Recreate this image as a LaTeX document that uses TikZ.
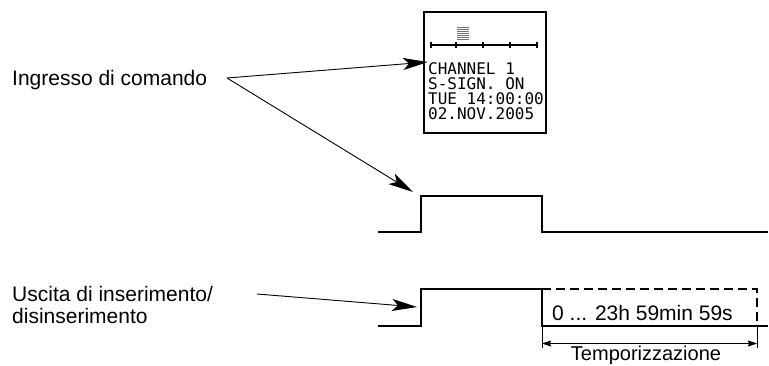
\documentclass[tikz,border=0pt]{standalone}
\usepackage{fontspec}
\setmainfont{Liberation Sans}
\newfontfamily\lcdfont{DejaVu Sans Mono}
\usetikzlibrary{arrows.meta}
\def\Pulse#1#2{%
 \draw[pulse line] (378,#1) -- (421,#1) -- (421,#2) -- (542,#2) -- (542,#1) -- (768,#1);
}
\def\LcdLine#1#2#3{%
 \node (#1) [lcd text] at (428,#2) {#3};
}

\begin{document}
\begin{tikzpicture}[x=1pt, y=-1pt,
    label text/.style={font=\fontsize{21}{23}\selectfont, inner sep=0pt, anchor=base west},
    lcd text/.style={font=\lcdfont\fontsize{16}{16}\selectfont, inner sep=0pt, anchor=base west},
    lcd box/.style={draw=black, line width=1.3pt, minimum width=122pt, minimum height=121pt, inner sep=0pt},
    pulse line/.style={line width=2.4pt, line join=miter},
    timer line/.style={line width=2.4pt, dash pattern=on 9pt off 5pt},
    callout/.style={line width=0.9pt, -{Stealth[length=25pt, width=12pt, inset=6pt]}},
    dim arrow/.style={line width=0.9pt, {Stealth[length=9pt, width=6pt, inset=1pt]}-{Stealth[length=9pt, width=6pt, inset=1pt]}}
  ]
\useasboundingbox (0,0) rectangle (769,365);

% labels
\node (ingresso) [label text] at (12,85) {Ingresso di comando};
\node (uscita1) [label text] at (12,301) {Uscita di inserimento/};
\node (uscita2) [label text] at (12,323) {disinserimento};

% display
\node (display) [lcd box] at (485,72.5) {};
\foreach \y in {27,29,...,39}
  \draw[black!55, line width=1pt] (457,\y) -- (469,\y);
\draw[line width=1.3pt] (431,45) -- (537,45);
\foreach \x in {431,456,483,510,537}
  \draw[line width=1.3pt] (\x,42) -- (\x,48);
\LcdLine{lcda}{74}{CHANNEL 1}
\LcdLine{lcdb}{89}{S-SIGN. ON}
\LcdLine{lcdc}{104}{TUE 14:00:00}
\LcdLine{lcdd}{119}{02.NOV.2005}

% waveforms
\Pulse{232}{196}
\Pulse{326}{289}
\draw[timer line] (542,289) -- (757,289) -- (757,326);
\node (range) [label text] at (552,320) {0 ... 23h 59min 59s};

% timing dimension
\coordinate (tstart) at (542,343.5);
\coordinate (tend) at (757,343.5);
\draw[line width=0.9pt] (542,326) -- (542,348);
\draw[line width=0.9pt] (757,326) -- (757,348);
\draw[dim arrow] (tstart) -- (tend);
\node (tempo) [label text, font=\fontsize{20}{22}\selectfont, anchor=base] at (646,360) {Temporizzazione};

% callouts
\coordinate (apex) at (227,78);
\coordinate (dispin) at (428,62);
\coordinate (pulsein) at (413,192);
\coordinate (usctail) at (257,294);
\coordinate (pulse2in) at (417,307);
\draw[callout] (apex) -- (dispin);
\draw[callout] (apex) -- (pulsein);
\draw[callout] (usctail) -- (pulse2in);
\end{tikzpicture}
\end{document}
